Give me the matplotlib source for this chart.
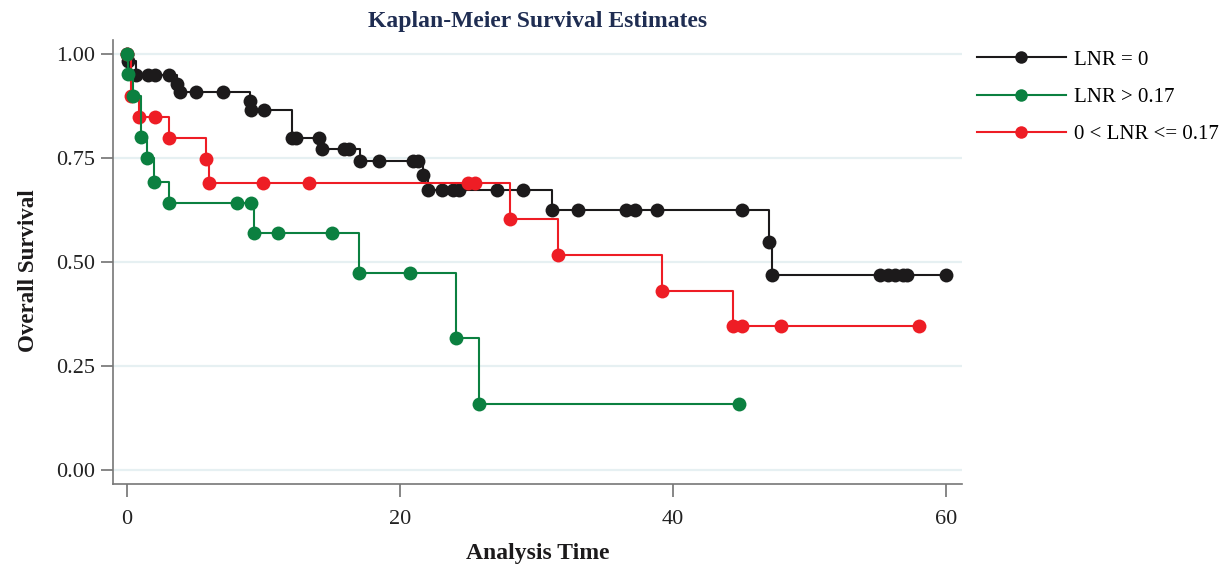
import matplotlib
matplotlib.use("Agg")
import matplotlib.pyplot as plt

# Kaplan-Meier step points (time, survival)
t_lnr0 = [0, 0.05, 0.66, 1.54, 2.05, 3.08, 3.66, 3.88, 5.05, 7.03, 9.0, 9.05, 10.04,
          12.09, 12.38, 14.07, 14.29, 15.9, 16.26, 17.07, 18.46, 20.95, 21.3, 21.68,
          22.05, 23.08, 23.88, 24.32, 27.1, 29.0, 31.14, 33.04, 36.56, 37.22, 38.83,
          45.05, 47.03, 47.25, 55.16, 55.75, 56.26, 56.85, 57.14, 60.0]
s_lnr0 = [1.0, 0.983, 0.950, 0.950, 0.950, 0.950, 0.928, 0.909, 0.909, 0.909, 0.887,
          0.865, 0.865, 0.798, 0.798, 0.798, 0.772, 0.772, 0.772, 0.743, 0.743, 0.743,
          0.743, 0.709, 0.673, 0.673, 0.673, 0.673, 0.673, 0.673, 0.625, 0.625, 0.625,
          0.625, 0.625, 0.625, 0.548, 0.469, 0.469, 0.469, 0.469, 0.469, 0.469, 0.469]

t_high = [0, 0.07, 0.44, 1.03, 1.47, 1.98, 3.08, 8.06, 9.08, 9.30, 11.06, 15.02,
          17.0, 20.73, 24.1, 25.79, 44.84]
s_high = [1.0, 0.952, 0.899, 0.800, 0.750, 0.692, 0.642, 0.642, 0.642, 0.570, 0.570,
          0.570, 0.474, 0.474, 0.317, 0.159, 0.159]

t_mid = [0, 0.3, 0.88, 2.05, 3.08, 5.79, 6.0, 9.96, 13.33, 24.98, 25.49, 28.06,
         31.58, 39.19, 44.4, 45.05, 47.9, 58.0]
s_mid = [1.0, 0.899, 0.849, 0.849, 0.798, 0.748, 0.690, 0.690, 0.690, 0.690, 0.690,
         0.603, 0.517, 0.430, 0.346, 0.346, 0.346, 0.346]

labels = ["LNR = 0", "LNR > 0.17", "0 < LNR <= 0.17"]
colors = ["#1c1a1b", "#0b8040", "#ee1d25"]
layers = [2, 4, 3]  # green drawn on top, then red, then black
y_ticks = [0.0, 0.25, 0.5, 0.75, 1.0]
x_ticks = [0, 20, 40, 60]

plt.rcParams["font.family"] = ["Liberation Serif", "DejaVu Serif"]

fig = plt.figure(figsize=(12.3, 5.66), dpi=100)
ax = fig.add_axes([0.0919, 0.1449, 0.6902, 0.7845])

for t, s, lab, c, z in zip([t_lnr0, t_high, t_mid], [s_lnr0, s_high, s_mid],
                           labels, colors, layers):
    ax.plot(t, s, drawstyle="steps-post", color=c, lw=1.5, marker="o",
            markersize=10, markeredgewidth=0, label=lab, zorder=z)

ax.set_xlim(-1.03, 61.17)
ax.set_ylim(-0.034, 1.034)
ax.set_xticks(x_ticks)
ax.set_yticks(y_ticks)
ax.set_xticklabels([str(v) for v in x_ticks])
ax.set_yticklabels(["%.2f" % v for v in y_ticks])

for v in y_ticks:
    ax.axhline(v, color="#e6f0f2", lw=1.6, zorder=0)

for side in ["top", "right"]:
    ax.spines[side].set_visible(False)
for side in ["left", "bottom"]:
    ax.spines[side].set_color("#777777")
    ax.spines[side].set_linewidth(1.2)
ax.tick_params(direction="out", length=9, width=1.1, color="#666666",
               labelsize=16, labelcolor="#222222")
ax.tick_params(axis="x", pad=10)
ax.tick_params(axis="y", pad=4)

ax.set_xlabel("Analysis Time", fontsize=17, fontweight="bold", color="#1c1a1b", labelpad=10)
ax.set_ylabel("Overall Survival", fontsize=16.5, fontweight="bold", color="#1c1a1b")
ax.yaxis.set_label_coords(-0.087, 0.48)
ax.set_title("Kaplan-Meier Survival Estimates", fontsize=17, fontweight="bold",
             color="#1f2d52", pad=9)

leg = ax.legend(loc="upper left", bbox_to_anchor=(1.0, 1.01), frameon=False,
                fontsize=15, handlelength=4.3, markerscale=0.9, labelspacing=0.85,
                handletextpad=0.4, borderaxespad=0.3)

fig.savefig("out.png", dpi=100)
